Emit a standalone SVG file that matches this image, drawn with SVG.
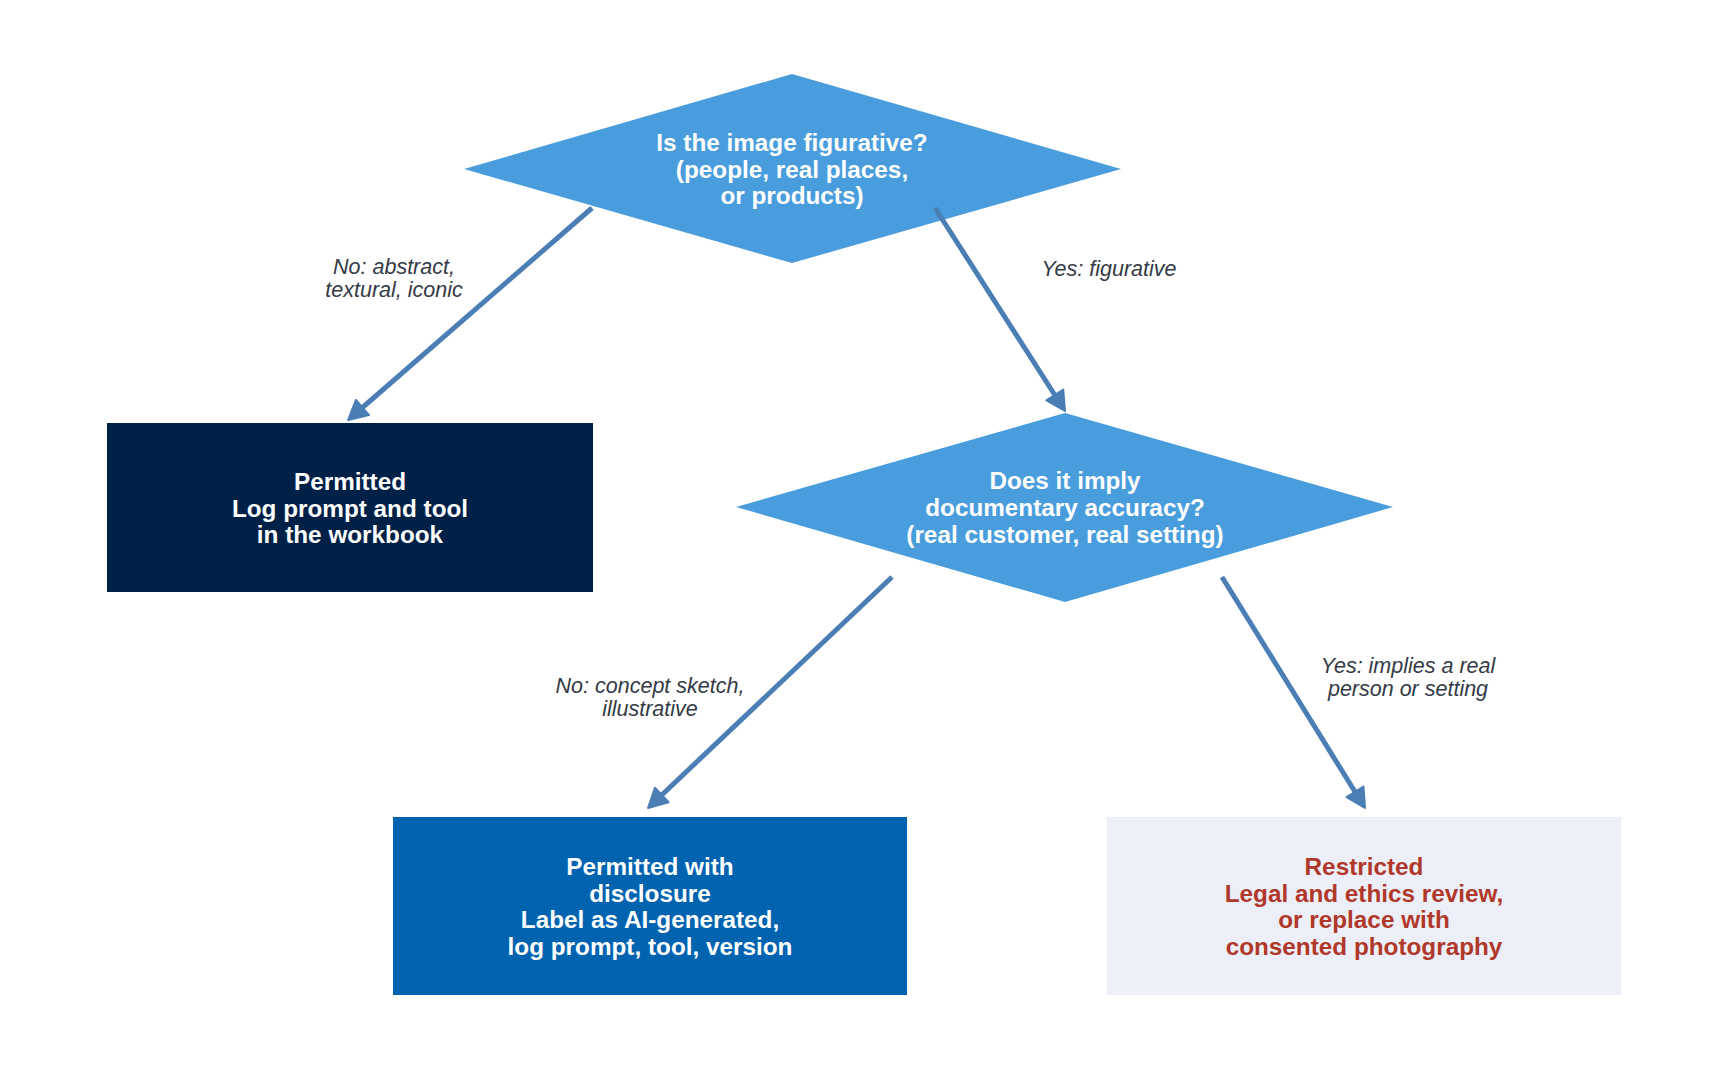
<svg xmlns="http://www.w3.org/2000/svg" width="1728" height="1075" viewBox="0 0 1728 1075">
  <style>
    .decision { fill: #4A9DDC; }
    .node-text { font-family: "Liberation Sans", Arial, sans-serif; font-weight: bold; font-size: 24.3px; text-anchor: middle; fill: #FFFFFF; }
    .node-text.warn { fill: #B0382B; }
    .edge { fill: none; stroke: #4A7EB5; stroke-width: 5; marker-end: url(#head); }
    .edge-label { font-family: "Liberation Sans", Arial, sans-serif; font-style: italic; font-size: 21.5px; text-anchor: middle; fill: #343A46; }
  </style>
  <defs>
    <marker id="head" markerUnits="userSpaceOnUse" markerWidth="26" markerHeight="26" refX="1" refY="11" orient="auto" overflow="visible">
      <path d="M1,1 L20,11 L1,21 Z" fill="#4A7EB5" stroke="#4A7EB5" stroke-width="2" stroke-linejoin="round"/>
    </marker>
  </defs>

  <rect width="1728" height="1075" fill="#FFFFFF"/>

  <!-- decision: figurative? -->
  <g id="q-figurative">
    <polygon class="decision" points="792,74 1121,169 792,263 464,169"/>
    <text class="node-text" x="792" y="151">Is the image figurative?</text>
    <text class="node-text" x="792" y="177.5">(people, real places,</text>
    <text class="node-text" x="792" y="204">or products)</text>
  </g>

  <!-- decision: documentary accuracy? -->
  <g id="q-documentary">
    <polygon class="decision" points="1065,413 1393,507 1065,602 736,507"/>
    <text class="node-text" x="1065" y="489">Does it imply</text>
    <text class="node-text" x="1065" y="516">documentary accuracy?</text>
    <text class="node-text" x="1065" y="543">(real customer, real setting)</text>
  </g>

  <!-- outcome: permitted -->
  <g id="permitted">
    <rect x="107" y="423" width="486" height="169" fill="#002147"/>
    <text class="node-text" x="350" y="490">Permitted</text>
    <text class="node-text" x="350" y="516.7">Log prompt and tool</text>
    <text class="node-text" x="350" y="543.3">in the workbook</text>
  </g>

  <!-- outcome: permitted with disclosure -->
  <g id="permitted-disclosure">
    <rect x="393" y="817" width="514" height="178" fill="#0063B0"/>
    <text class="node-text" x="650" y="875">Permitted with</text>
    <text class="node-text" x="650" y="901.7">disclosure</text>
    <text class="node-text" x="650" y="928.3">Label as AI-generated,</text>
    <text class="node-text" x="650" y="955">log prompt, tool, version</text>
  </g>

  <!-- outcome: restricted -->
  <g id="restricted">
    <rect x="1107" y="817" width="514" height="178" fill="#ECEFF7"/>
    <text class="node-text warn" x="1364" y="875">Restricted</text>
    <text class="node-text warn" x="1364" y="901.7">Legal and ethics review,</text>
    <text class="node-text warn" x="1364" y="928.3">or replace with</text>
    <text class="node-text warn" x="1364" y="955">consented photography</text>
  </g>

  <!-- connectors and their labels -->
  <g id="connectors">
    <line class="edge" x1="592" y1="208" x2="362.5" y2="407.5"/>
    <line class="edge" x1="935" y1="208" x2="1054.8" y2="395"/>
    <line class="edge" x1="892" y1="577" x2="661.8" y2="795"/>
    <line class="edge" x1="1222" y1="577" x2="1355" y2="791.8"/>

    <text class="edge-label" x="394" y="274">No: abstract,</text>
    <text class="edge-label" x="394" y="297">textural, iconic</text>
    <text class="edge-label" x="1109" y="276">Yes: figurative</text>
    <text class="edge-label" x="650" y="693">No: concept sketch,</text>
    <text class="edge-label" x="650" y="716">illustrative</text>
    <text class="edge-label" x="1408" y="673">Yes: implies a real</text>
    <text class="edge-label" x="1408" y="696">person or setting</text>
  </g>
</svg>
